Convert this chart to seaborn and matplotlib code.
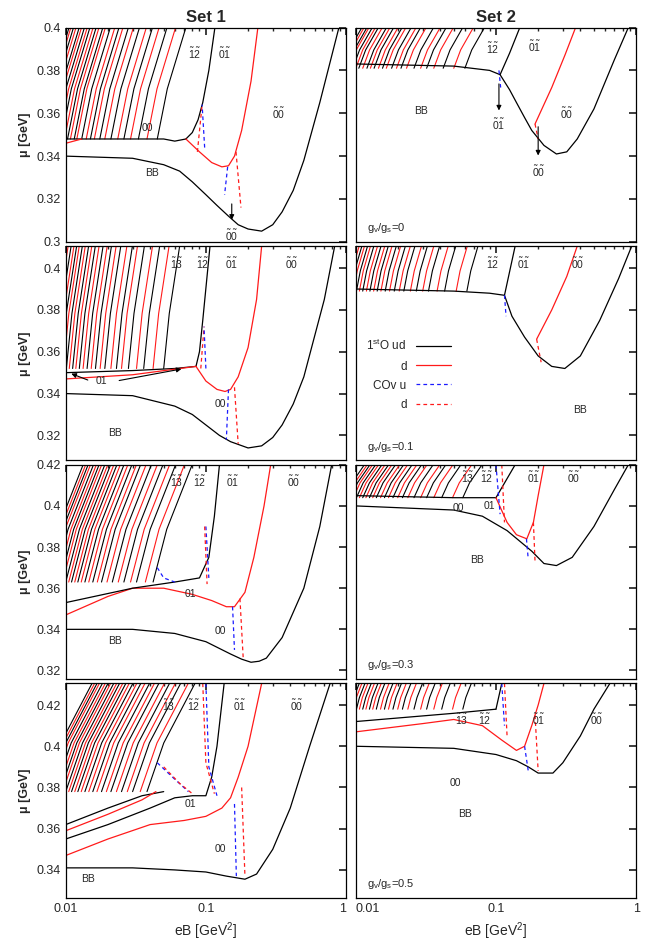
import matplotlib
matplotlib.use("Agg")
import matplotlib.pyplot as plt
import seaborn as sns
import numpy as np
from matplotlib.lines import Line2D

sns.set_theme(style="white", font="Liberation Sans")
plt.rcParams.update({"xtick.direction": "in", "ytick.direction": "in",
                     "xtick.top": True, "ytick.right": True,
                     "mathtext.fontset": "custom", "mathtext.rm": "Liberation Sans",
                     "mathtext.it": "Liberation Sans"})

def tl(s):
    return "$" + "".join(r"\tilde{\mathrm{%s}}" % c for c in s) + "$"

# ---------------- data ----------------
YLIMS = [(0.30, 0.40), (0.308, 0.4105), (0.3158, 0.42), (0.3265, 0.4305)]
YTICKS = [[0.30, 0.32, 0.34, 0.36, 0.38, 0.40], [0.32, 0.34, 0.36, 0.38, 0.40],
          [0.32, 0.34, 0.36, 0.38, 0.40, 0.42], [0.34, 0.36, 0.38, 0.40, 0.42]]
GRATIO = ["0", "0.1", "0.3", "0.5"]

# Landau-level lines: start eB on plateau, plateau mu, top eB/start eB ratio
L_BLACK = {
    (0, 0): [0.045, 0.033, 0.026, 0.021, 0.0175, 0.015, 0.013, 0.0115, 0.0103, 0.0093, 0.0085, 0.0078, 0.0071, 0.0066],
    (0, 1): [0.06, 0.042, 0.032, 0.026, 0.021, 0.018, 0.0155, 0.0135, 0.012, 0.0105, 0.0095, 0.0087, 0.008],
    (1, 0): [0.05, 0.036, 0.028, 0.023, 0.019, 0.0163, 0.0142, 0.0125, 0.0112, 0.0101, 0.0092, 0.0084, 0.0077, 0.007],
    (1, 1): [0.062, 0.043, 0.033, 0.027, 0.022, 0.0188, 0.0162, 0.0142, 0.0126, 0.0112, 0.0101, 0.0092, 0.0084],
    (2, 0): [0.042, 0.032, 0.026, 0.0215, 0.018, 0.0156, 0.0137, 0.0122, 0.011, 0.01, 0.0091, 0.0083, 0.0076, 0.007],
    (2, 1): [0.058, 0.041, 0.032, 0.026, 0.0215, 0.0184, 0.016, 0.014, 0.0125, 0.0112, 0.0101, 0.0092, 0.0084],
    (3, 0): [0.038, 0.03, 0.025, 0.021, 0.018, 0.0156, 0.0137, 0.0122, 0.011, 0.01, 0.0091, 0.0083, 0.0076, 0.007],
    (3, 1): [0.058, 0.041, 0.032, 0.026, 0.0215, 0.0184, 0.016, 0.014, 0.0125, 0.0112, 0.0101, 0.0092, 0.0084],
}
L_RED = {
    (0, 0): [0.038, 0.029, 0.0235, 0.019, 0.016, 0.014, 0.012, 0.0108, 0.0098, 0.0089, 0.0081, 0.0074, 0.0068],
    (0, 1): [0.05, 0.036, 0.029, 0.023, 0.0195, 0.0165, 0.0145, 0.0127, 0.0112, 0.01, 0.009, 0.0083],
    (1, 0): [0.042, 0.032, 0.025, 0.021, 0.0176, 0.0152, 0.0133, 0.0118, 0.0106, 0.0096, 0.0088, 0.008, 0.0073],
    (1, 1): [0.052, 0.038, 0.03, 0.0245, 0.0204, 0.0174, 0.0151, 0.0134, 0.0119, 0.0106, 0.0096, 0.0088],
    (2, 0): [0.037, 0.029, 0.0237, 0.0197, 0.0168, 0.0146, 0.0129, 0.0116, 0.0105, 0.0095, 0.0087, 0.0079, 0.0073],
    (2, 1): [0.049, 0.036, 0.029, 0.0235, 0.0199, 0.0171, 0.015, 0.0132, 0.0118, 0.0106, 0.0096, 0.0088],
    (3, 0): [0.034, 0.0275, 0.023, 0.0195, 0.0167, 0.0146, 0.0129, 0.0116, 0.0105, 0.0095, 0.0087, 0.0079, 0.0073],
    (3, 1): [0.049, 0.036, 0.029, 0.0235, 0.0199, 0.0171, 0.015, 0.0132, 0.0118, 0.0106, 0.0096, 0.0088],
}
L_BASE = {(0, 0): 0.348, (0, 1): 0.381, (1, 0): 0.352, (1, 1): 0.389,
          (2, 0): 0.363, (2, 1): 0.404, (3, 0): 0.378, (3, 1): 0.418}
L_RATIO = {(0, 0): 1.6, (0, 1): 1.38, (1, 0): 1.3, (1, 1): 1.2,
           (2, 0): 1.9, (2, 1): 1.37, (3, 0): 2.2, (3, 1): 1.15}

CURVES = {
    (0, 0): [
        ("k", [0.01, 0.03, 0.05, 0.065, 0.08, 0.1, 0.12, 0.145, 0.17, 0.2, 0.25, 0.3, 0.35, 0.42, 0.5, 0.65, 0.89],
              [0.340, 0.339, 0.336, 0.333, 0.328, 0.322, 0.317, 0.312, 0.308, 0.306, 0.305, 0.308, 0.314, 0.324, 0.338, 0.365, 0.40]),
        ("k", [0.01, 0.03, 0.05, 0.06, 0.072], [0.348, 0.348, 0.348, 0.347, 0.348]),
        ("k", [0.072, 0.08, 0.088, 0.095, 0.105, 0.116], [0.348, 0.351, 0.357, 0.365, 0.38, 0.40]),
        ("r", [0.072, 0.09, 0.11, 0.13, 0.145, 0.16, 0.18, 0.21, 0.235],
              [0.348, 0.342, 0.337, 0.335, 0.3355, 0.340, 0.352, 0.375, 0.40]),
        ("r", [0.01, 0.013], [0.346, 0.348]),
    ],
    (0, 1): [
        ("k", [0.01, 0.05, 0.09, 0.107, 0.125, 0.14, 0.16, 0.18, 0.22, 0.27, 0.32, 0.38, 0.5, 0.7, 0.88],
              [0.383, 0.382, 0.380, 0.378, 0.371, 0.365, 0.358, 0.352, 0.345, 0.341, 0.342, 0.348, 0.362, 0.385, 0.40]),
        ("k", [0.107, 0.125, 0.148], [0.378, 0.388, 0.40]),
        ("r", [0.19, 0.25, 0.31, 0.37], [0.355, 0.372, 0.387, 0.40]),
    ],
    (1, 0): [
        ("k", [0.01, 0.03, 0.06, 0.08, 0.1, 0.125, 0.15, 0.2, 0.25, 0.3, 0.35, 0.42, 0.5, 0.7, 0.83],
              [0.340, 0.339, 0.334, 0.330, 0.325, 0.320, 0.317, 0.314, 0.315, 0.319, 0.325, 0.335, 0.348, 0.385, 0.4105]),
        ("k", [0.01, 0.03, 0.06, 0.085], [0.350, 0.351, 0.352, 0.353]),
        ("k", [0.085, 0.09, 0.095, 0.107], [0.353, 0.36, 0.375, 0.4105]),
        ("r", [0.01, 0.03, 0.085], [0.347, 0.349, 0.353]),
        ("r", [0.085, 0.1, 0.12, 0.137, 0.15, 0.17, 0.2, 0.23, 0.25],
              [0.353, 0.346, 0.342, 0.341, 0.342, 0.348, 0.362, 0.385, 0.4105]),
    ],
    (1, 1): [
        ("k", [0.01, 0.05, 0.09, 0.115, 0.13, 0.16, 0.2, 0.25, 0.31, 0.4, 0.55, 0.75, 0.93],
              [0.390, 0.389, 0.388, 0.387, 0.377, 0.367, 0.358, 0.353, 0.352, 0.358, 0.375, 0.395, 0.4105]),
        ("k", [0.115, 0.137], [0.387, 0.4105]),
        ("r", [0.195, 0.25, 0.32, 0.38], [0.366, 0.38, 0.396, 0.4105]),
    ],
    (2, 0): [
        ("k", [0.01, 0.03, 0.06, 0.1, 0.15, 0.18, 0.21, 0.24, 0.27, 0.35, 0.5, 0.65, 0.79],
              [0.340, 0.340, 0.338, 0.334, 0.328, 0.3255, 0.324, 0.3245, 0.326, 0.336, 0.36, 0.39, 0.42]),
        ("r", [0.01, 0.02, 0.03, 0.05, 0.08, 0.11, 0.14, 0.16, 0.19, 0.22, 0.26, 0.29],
              [0.347, 0.356, 0.360, 0.360, 0.357, 0.354, 0.351, 0.351, 0.358, 0.375, 0.40, 0.42]),
        ("k", [0.01, 0.03, 0.06, 0.09, 0.105, 0.115, 0.125],
              [0.353, 0.360, 0.363, 0.365, 0.375, 0.395, 0.42]),
    ],
    (2, 1): [
        ("k", [0.01, 0.05, 0.08, 0.12, 0.18, 0.22, 0.27, 0.35, 0.5, 0.7, 0.88],
              [0.400, 0.398, 0.395, 0.388, 0.378, 0.372, 0.371, 0.375, 0.39, 0.408, 0.42]),
        ("k", [0.01, 0.05, 0.1], [0.405, 0.404, 0.404]),
        ("k", [0.1, 0.137], [0.404, 0.42]),
        ("r", [0.1, 0.12, 0.14, 0.166, 0.185, 0.2, 0.22],
              [0.404, 0.392, 0.386, 0.384, 0.392, 0.405, 0.42]),
    ],
    (3, 0): [
        ("k", [0.01, 0.03, 0.06, 0.1, 0.14, 0.19, 0.23, 0.3, 0.4, 0.55, 0.77],
              [0.341, 0.341, 0.340, 0.339, 0.337, 0.3355, 0.338, 0.35, 0.37, 0.40, 0.4305]),
        ("r", [0.01, 0.02, 0.04, 0.07, 0.1, 0.13, 0.15, 0.17, 0.2, 0.25],
              [0.347, 0.355, 0.362, 0.364, 0.366, 0.370, 0.375, 0.385, 0.40, 0.4305]),
        ("k", [0.01, 0.02, 0.04, 0.06, 0.08, 0.1, 0.11, 0.12, 0.135],
              [0.355, 0.362, 0.370, 0.375, 0.376, 0.376, 0.385, 0.40, 0.4305]),
        ("k", [0.01, 0.02, 0.035, 0.05], [0.362, 0.370, 0.376, 0.378]),
        ("r", [0.01, 0.02, 0.035, 0.044], [0.359, 0.367, 0.374, 0.378]),
    ],
    (3, 1): [
        ("k", [0.01, 0.05, 0.1, 0.14, 0.17, 0.2, 0.255, 0.3, 0.4, 0.5, 0.65],
              [0.400, 0.399, 0.396, 0.393, 0.390, 0.387, 0.387, 0.392, 0.405, 0.418, 0.4305]),
        ("r", [0.01, 0.03, 0.05, 0.08, 0.11, 0.14, 0.16, 0.18, 0.2, 0.22],
              [0.407, 0.411, 0.413, 0.410, 0.403, 0.398, 0.40, 0.41, 0.42, 0.4305]),
        ("k", [0.01, 0.05, 0.1], [0.412, 0.416, 0.418]),
        ("k", [0.1, 0.11], [0.418, 0.4305]),
    ],
}

DASHED = {
    (0, 0): [("r", [0.087, 0.094], [0.342, 0.364]), ("b", [0.098, 0.094], [0.344, 0.364]),
             ("b", [0.143, 0.136], [0.335, 0.322]), ("r", [0.164, 0.178], [0.342, 0.316])],
    (0, 1): [("b", [0.105, 0.108], [0.380, 0.372]), ("r", [0.19, 0.2], [0.355, 0.348])],
    (1, 0): [("r", [0.092, 0.097], [0.352, 0.372]), ("b", [0.1, 0.097], [0.352, 0.372]),
             ("b", [0.145, 0.14], [0.342, 0.318]), ("r", [0.16, 0.17], [0.343, 0.316])],
    (1, 1): [("b", [0.115, 0.118], [0.387, 0.377]), ("r", [0.195, 0.21], [0.366, 0.355])],
    (2, 0): [("b", [0.1, 0.105], [0.39, 0.365]), ("r", [0.098, 0.102], [0.39, 0.362]),
             ("b", [0.155, 0.16], [0.351, 0.33]), ("r", [0.175, 0.185], [0.355, 0.325]),
             ("b", [0.045, 0.05, 0.06], [0.37, 0.365, 0.363])],
    (2, 1): [("b", [0.1, 0.107], [0.42, 0.396]), ("r", [0.11, 0.115], [0.42, 0.392]),
             ("b", [0.165, 0.17], [0.384, 0.374]), ("r", [0.185, 0.19], [0.392, 0.373])],
    (3, 0): [("b", [0.1, 0.105, 0.12], [0.4305, 0.39, 0.376]), ("r", [0.095, 0.1, 0.115], [0.4305, 0.392, 0.377]),
             ("b", [0.16, 0.165], [0.372, 0.337]), ("r", [0.18, 0.19], [0.38, 0.337]),
             ("b", [0.045, 0.06, 0.075], [0.392, 0.384, 0.378]), ("r", [0.05, 0.065, 0.08], [0.39, 0.382, 0.377])],
    (3, 1): [("b", [0.11, 0.115], [0.4305, 0.41]), ("r", [0.115, 0.12], [0.4305, 0.405]),
             ("b", [0.16, 0.17], [0.40, 0.388]), ("r", [0.19, 0.2], [0.415, 0.388])],
}

LABELS = {
    (0, 0): [(tl("12"), 0.083, 0.388), (tl("01"), 0.137, 0.388), ("00", 0.0385, 0.353),
             (tl("00"), 0.33, 0.36), ("BB", 0.041, 0.332), (tl("00"), 0.153, 0.303)],
    (0, 1): [(tl("12"), 0.095, 0.39), (tl("01"), 0.19, 0.391), ("BB", 0.029, 0.361),
             (tl("00"), 0.32, 0.36), (tl("01"), 0.105, 0.355), (tl("00"), 0.2, 0.333)],
    (1, 0): [(tl("13"), 0.062, 0.402), (tl("12"), 0.095, 0.402), (tl("01"), 0.153, 0.402),
             (tl("00"), 0.41, 0.402), ("00", 0.126, 0.335), ("BB", 0.0225, 0.321), ("01", 0.018, 0.346)],
    (1, 1): [(tl("12"), 0.095, 0.402), (tl("01"), 0.158, 0.402), (tl("00"), 0.38, 0.402),
             ("BB", 0.4, 0.332)],
    (2, 0): [(tl("13"), 0.062, 0.412), (tl("12"), 0.09, 0.412), (tl("01"), 0.155, 0.412),
             (tl("00"), 0.42, 0.412), ("01", 0.077, 0.357), ("00", 0.126, 0.339), ("BB", 0.0225, 0.3345)],
    (2, 1): [(tl("13"), 0.063, 0.414), (tl("12"), 0.086, 0.414), (tl("01"), 0.185, 0.414),
             (tl("00"), 0.36, 0.414), ("00", 0.0535, 0.399), ("01", 0.09, 0.400), ("BB", 0.073, 0.3735)],
    (3, 0): [(tl("13"), 0.054, 0.42), (tl("12"), 0.081, 0.42), (tl("01"), 0.174, 0.42),
             (tl("00"), 0.44, 0.42), ("01", 0.077, 0.372), ("00", 0.126, 0.350), ("BB", 0.0143, 0.3355)],
    (3, 1): [(tl("13"), 0.057, 0.413), (tl("12"), 0.083, 0.413), (tl("01"), 0.2, 0.413),
             (tl("00"), 0.52, 0.413), ("00", 0.051, 0.382), ("BB", 0.06, 0.367)],
}

ARROWS = {(0, 0): [((0.153, 0.319), (0.153, 0.309))],
          (0, 1): [((0.105, 0.375), (0.105, 0.360)), ((0.2, 0.355), (0.2, 0.339))],
          (1, 0): [((0.015, 0.346), (0.0105, 0.350)), ((0.023, 0.346), (0.07, 0.352))]}

COL = {"k": "black", "r": "#ff1a1a", "b": "#1a1aff"}

fig, axes = plt.subplots(4, 2, figsize=(6.64, 9.49), dpi=100)
fig.subplots_adjust(left=0.099, right=0.958, top=0.971, bottom=0.054, wspace=0.035, hspace=0.02)

for r in range(4):
    for c in range(2):
        ax = axes[r, c]
        key = (r, c)
        y0, y1 = YLIMS[r]
        base, ratio = L_BASE[key], L_RATIO[key]
        for col, starts in (("k", L_BLACK[key]), ("r", L_RED[key])):
            for xs in starts:
                sns.lineplot(x=[xs, xs * ratio ** 0.35, xs * ratio], y=[base, base + 0.45 * (y1 - base), y1],
                             ax=ax, color=COL[col], lw=0.8, sort=False, estimator=None)
        for col, xs, ys in CURVES[key]:
            sns.lineplot(x=xs, y=ys, ax=ax, color=COL[col], lw=0.9, sort=False, estimator=None)
        for col, xs, ys in DASHED[key]:
            ax.plot(xs, ys, color=COL[col], lw=0.9, ls=(0, (3, 2.5)))
        for txt, x, y in LABELS[key]:
            ax.text(x, y, txt, fontsize=7.5, ha="center", va="center")
        for (xa, ya), (xb, yb) in ARROWS.get(key, []):
            ax.annotate("", xy=(xb, yb), xytext=(xa, ya),
                        arrowprops=dict(arrowstyle="-|>", color="black", lw=0.8, mutation_scale=7))
        ax.set_xscale("log")
        ax.set_xlim(0.01, 1)
        ax.set_ylim(y0, y1)
        ax.set_yticks(YTICKS[r])
        ax.tick_params(which="both", direction="in", top=True, right=True, labelsize=9)
        ax.tick_params(which="major", length=5)
        ax.tick_params(which="minor", length=2.5)
        for s in ax.spines.values():
            s.set_color("black"); s.set_linewidth(0.9)
        if c == 0:
            ax.set_yticklabels([f"{v:g}" for v in YTICKS[r]])
            ax.set_ylabel("μ [GeV]", fontsize=9, fontweight="bold")
        else:
            ax.set_yticklabels([])
            ax.set_ylabel("")
            ax.text(0.012, y0 + 0.05 * (y1 - y0), "g$_v$/g$_s$=" + GRATIO[r], fontsize=8)
        if r == 3:
            ax.set_xticks([0.01, 0.1, 1])
            ax.set_xticklabels(["0.01", "0.1", "1"])
            ax.set_xlabel("eB [GeV$^2$]", fontsize=10)
            labs = ax.get_xticklabels()
            if c == 0:
                labs[-1].set_ha("right")
            else:
                labs[0].set_ha("left")
        else:
            ax.set_xticklabels([])
            ax.set_xlabel("")

axes[0, 0].set_title("Set 1", fontsize=12, fontweight="bold", pad=4)
axes[0, 1].set_title("Set 2", fontsize=12, fontweight="bold", pad=4)

hs = [Line2D([], [], color="black", lw=0.9), Line2D([], [], color=COL["r"], lw=0.9),
      Line2D([], [], color=COL["b"], lw=0.9, ls=(0, (3, 2.5))), Line2D([], [], color=COL["r"], lw=0.9, ls=(0, (3, 2.5)))]
leg = axes[1, 1].legend(hs, ["1$^{st}$O ud", "d", "COv u", "d"], loc="upper left",
                        bbox_to_anchor=(0.0, 0.62), frameon=False, markerfirst=False,
                        fontsize=8.5, handlelength=3, labelspacing=0.6, alignment="right")

fig.savefig("out.png", dpi=100)
